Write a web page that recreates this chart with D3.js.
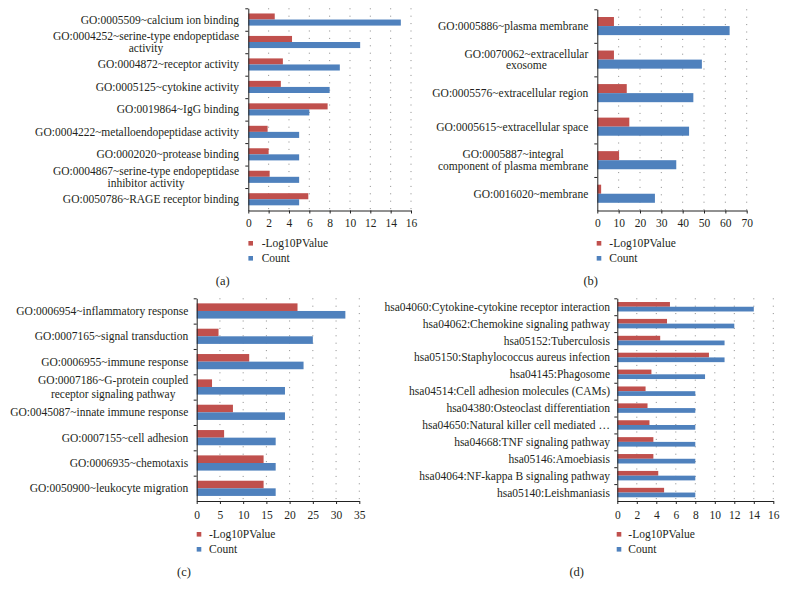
<!DOCTYPE html>
<html>
<head>
<meta charset="utf-8">
<script src="https://cdn.jsdelivr.net/npm/d3@7/dist/d3.min.js"></script>
<style>
  html, body { margin: 0; padding: 0; background: #fff; }
  svg { display: block; }
  text { font-family: "Liberation Serif", "Times New Roman", serif; fill: #231f20; }
</style>
</head>
<body>
<svg id="chart" width="786" height="597"></svg>
<script>
// ---------------- DATA ----------------
const seriesNames = ["-Log10PValue", "Count"];

// Panel (a) – molecular function
const aCategories = [
  "GO:0005509~calcium ion binding",
  "GO:0004252~serine-type endopeptidase\nactivity",
  "GO:0004872~receptor activity",
  "GO:0005125~cytokine activity",
  "GO:0019864~IgG binding",
  "GO:0004222~metalloendopeptidase activity",
  "GO:0002020~protease binding",
  "GO:0004867~serine-type endopeptidase\ninhibitor activity",
  "GO:0050786~RAGE receptor binding"
];
const aLogP  = [2.6, 4.3, 3.4, 3.2, 7.8, 1.9, 2.0, 2.1, 5.9];
const aCount = [15, 11, 9, 8, 6, 5, 5, 5, 5];
const aTicks = [0, 2, 4, 6, 8, 10, 12, 14, 16];

// Panel (b) – cellular component
const bCategories = [
  "GO:0005886~plasma membrane",
  "GO:0070062~extracellular\nexosome",
  "GO:0005576~extracellular region",
  "GO:0005615~extracellular space",
  "GO:0005887~integral\ncomponent of plasma membrane",
  "GO:0016020~membrane"
];
const bLogP  = [7.8, 7.8, 13.8, 15.0, 10.2, 1.8];
const bCount = [62, 49, 45, 43, 37, 27];
const bTicks = [0, 10, 20, 30, 40, 50, 60, 70];

// Panel (c) – biological process
const cCategories = [
  "GO:0006954~inflammatory response",
  "GO:0007165~signal transduction",
  "GO:0006955~immune response",
  "GO:0007186~G-protein coupled\nreceptor signaling pathway",
  "GO:0045087~innate immune response",
  "GO:0007155~cell adhesion",
  "GO:0006935~chemotaxis",
  "GO:0050900~leukocyte migration"
];
const cLogP  = [21.7, 4.7, 11.3, 3.3, 7.8, 5.9, 14.4, 14.4];
const cCount = [32, 25, 23, 19, 19, 17, 17, 17];
const cTicks = [0, 5, 10, 15, 20, 25, 30, 35];

// Panel (d) – KEGG pathways
const dCategories = [
  "hsa04060:Cytokine-cytokine receptor interaction",
  "hsa04062:Chemokine signaling pathway",
  "hsa05152:Tuberculosis",
  "hsa05150:Staphylococcus aureus infection",
  "hsa04145:Phagosome",
  "hsa04514:Cell adhesion molecules (CAMs)",
  "hsa04380:Osteoclast differentiation",
  "hsa04650:Natural killer cell mediated …",
  "hsa04668:TNF signaling pathway",
  "hsa05146:Amoebiasis",
  "hsa04064:NF-kappa B signaling pathway",
  "hsa05140:Leishmaniasis"
];
const dLogP  = [5.4, 5.1, 4.4, 9.4, 3.5, 2.9, 3.1, 3.3, 3.7, 3.7, 4.2, 4.8];
const dCount = [14, 12, 11, 11, 9, 8, 8, 8, 8, 8, 8, 8];
const dTicks = [0, 2, 4, 6, 8, 10, 12, 14, 16];

const captions = ["(a)", "(b)", "(c)", "(d)"];

// ---------------- LAYOUT ----------------
const colors = ["#c0504d", "#4f81bd"];
const FONT = 11.5;

const panels = [
  { cats: aCategories, v1: aLogP, v2: aCount, ticks: aTicks, caption: captions[0],
    x0: 248.3, x1: 411, top: 8.3, bottom: 210.5, labelRight: 239, lineH: 11.5, barFrac: 0.27,
    tickY: 223, legX: 250.7, legTX: 261.7, legY: 243.3, capX: 222.7, capY: 281 },
  { cats: bCategories, v1: bLogP, v2: bCount, ticks: bTicks, caption: captions[1],
    x0: 597.3, x1: 746.7, top: 9.3, bottom: 210.5, labelRight: 588.3, lineH: 11.5, barFrac: 0.27,
    tickY: 223, legX: 599, legTX: 609.3, legY: 243.3, capX: 590.7, capY: 281 },
  { cats: cCategories, v1: cLogP, v2: cCount, ticks: cTicks, caption: captions[2],
    x0: 196.7, x1: 359.3, top: 298.3, bottom: 501, labelRight: 188.3, lineH: 14.5, barFrac: 0.3,
    tickY: 515, legX: 199, legTX: 209, legY: 534.3, capX: 184, capY: 571.7 },
  { cats: dCategories, v1: dLogP, v2: dCount, ticks: dTicks, caption: captions[3],
    x0: 617.3, x1: 773.3, top: 298.3, bottom: 501, labelRight: 610, lineH: 11.5, barFrac: 0.28,
    tickY: 515, legX: 619, legTX: 628.3, legY: 534.3, capX: 576.7, capY: 571.7 }
];

const svg = d3.select("#chart");

panels.forEach(p => {
  const g = svg.append("g");
  const x = d3.scaleLinear()
    .domain([p.ticks[0], p.ticks[p.ticks.length - 1]])
    .range([p.x0, p.x1]);
  const y = d3.scaleBand().domain(p.cats).range([p.top, p.bottom]).padding(0);
  const bw = y.bandwidth();
  const bh = bw * p.barFrac;

  // dotted gridlines
  g.append("g").selectAll("line")
    .data(p.ticks.slice(1))
    .join("line")
    .attr("x1", d => x(d)).attr("x2", d => x(d))
    .attr("y1", p.top).attr("y2", p.bottom)
    .attr("stroke", "#8a8a8a")
    .attr("stroke-width", 1)
    .attr("stroke-dasharray", "1,6.4");

  // bars
  const rows = p.cats.map((c, i) => ({ c, v1: p.v1[i], v2: p.v2[i] }));
  g.append("g").selectAll("rect")
    .data(rows)
    .join("rect")
    .attr("x", x(0))
    .attr("y", d => y(d.c) + bw / 2 - bh)
    .attr("width", d => x(d.v1) - x(0))
    .attr("height", bh)
    .attr("fill", colors[0]);
  g.append("g").selectAll("rect")
    .data(rows)
    .join("rect")
    .attr("x", x(0))
    .attr("y", d => y(d.c) + bw / 2)
    .attr("width", d => x(d.v2) - x(0))
    .attr("height", bh)
    .attr("fill", colors[1]);

  // x axis
  const xAxis = d3.axisBottom(x).tickValues(p.ticks).tickSize(3).tickSizeOuter(0).tickPadding(4);
  const xg = g.append("g").attr("transform", `translate(0,${p.bottom})`).call(xAxis);
  xg.select(".domain").attr("stroke", "#222");
  xg.selectAll(".tick line").attr("stroke", "#222");
  xg.selectAll(".tick text")
    .attr("y", null).attr("dy", null)
    .attr("transform", `translate(0,${p.tickY - p.bottom})`)
    .attr("dominant-baseline", "central")
    .style("font-family", '"Liberation Serif", serif')
    .style("font-size", FONT + "px")
    .attr("fill", "#231f20");

  // category axis with ticks at band boundaries
  const yIdx = d3.scaleLinear().domain([0, p.cats.length]).range([p.top, p.bottom]);
  const yAxis = d3.axisLeft(yIdx).tickValues(d3.range(p.cats.length)).tickFormat("").tickSize(3).tickSizeOuter(0);
  const yg = g.append("g").attr("transform", `translate(${p.x0},0)`).call(yAxis);
  yg.select(".domain").attr("stroke", "#222");
  yg.selectAll(".tick line").attr("stroke", "#222");

  // category labels
  const lg = g.append("g");
  p.cats.forEach(c => {
    const lines = c.split("\n");
    const cy = y(c) + bw / 2;
    const t = lg.append("text")
      .style("font-size", FONT + "px")
      .attr("dominant-baseline", "central");
    if (lines.length === 1) {
      t.attr("text-anchor", "end").attr("x", p.labelRight).attr("y", cy).text(lines[0]);
    } else {
      // measure widest line, center lines within block that is right-aligned
      const tmp = lg.append("text").style("font-size", FONT + "px");
      let maxW = 0;
      lines.forEach(l => { tmp.text(l); maxW = Math.max(maxW, tmp.node().getComputedTextLength()); });
      tmp.remove();
      const cx = p.labelRight - maxW / 2;
      t.attr("text-anchor", "middle");
      lines.forEach((l, k) => {
        t.append("tspan")
          .attr("x", cx)
          .attr("y", cy + (k - (lines.length - 1) / 2) * p.lineH)
          .text(l);
      });
    }
  });

  // legend
  const leg = g.append("g");
  seriesNames.forEach((s, k) => {
    const ly = p.legY + k * 15;
    leg.append("rect")
      .attr("x", p.legX - 2.3).attr("y", ly - 2.3)
      .attr("width", 4.6).attr("height", 4.6)
      .attr("fill", colors[k]);
    leg.append("text")
      .attr("x", p.legTX).attr("y", ly)
      .attr("dominant-baseline", "central")
      .style("font-size", FONT + "px")
      .text(s);
  });

  // caption
  g.append("text")
    .attr("x", p.capX).attr("y", p.capY)
    .attr("text-anchor", "middle")
    .attr("dominant-baseline", "central")
    .style("font-size", "12.5px")
    .text(p.caption);
});
</script>
</body>
</html>
